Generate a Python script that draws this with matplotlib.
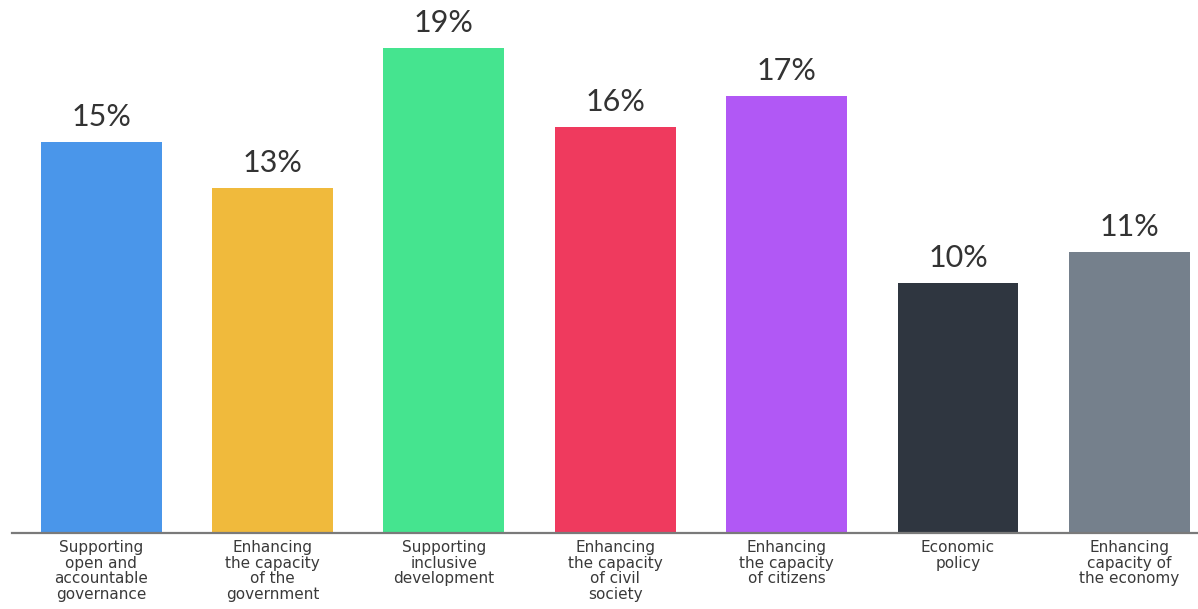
import matplotlib
matplotlib.use("Agg")
import matplotlib.pyplot as plt

categories = [
    "Supporting\nopen and\naccountable\ngovernance",
    "Enhancing\nthe capacity\nof the\ngovernment",
    "Supporting\ninclusive\ndevelopment",
    "Enhancing\nthe capacity\nof civil\nsociety",
    "Enhancing\nthe capacity\nof citizens",
    "Economic\npolicy",
    "Enhancing\ncapacity of\nthe economy",
]
# bar heights (labels are rounded)
values = [15.3, 13.5, 19.0, 15.9, 17.1, 9.8, 11.0]
value_labels = ["15%", "13%", "19%", "16%", "17%", "10%", "11%"]
colors = ["#4A96EA", "#F0BA3C", "#45E48F", "#EF3A5E", "#B158F5", "#2F3640", "#75808C"]

plt.rcParams["font.family"] = ["Lato", "DejaVu Sans"]

fig = plt.figure(figsize=(11.98, 6.09), dpi=100)
ax = fig.add_axes([12 / 1198, 76 / 609, 1 - 12 / 1198, 533 / 609])

x = list(range(len(values)))
bars = ax.bar(x, values, width=0.705, color=colors, zorder=2)

for bar, lab in zip(bars, value_labels):
    ax.annotate(lab, (bar.get_x() + bar.get_width() / 2, bar.get_height()),
                xytext=(0, 8), textcoords="offset points",
                ha="center", va="bottom", fontsize=22, color="#333333")

ax.set_xlim(-0.52, 6.40)
ax.set_ylim(0, 20.88)

ax.set_xticks(x)
ax.set_xticklabels(categories, fontsize=11, color="#3a3a3a", linespacing=1.05,
                   family=["DejaVu Sans"])
ax.tick_params(axis="x", length=0, pad=5)
ax.set_yticks([])

for side in ["top", "right", "left"]:
    ax.spines[side].set_visible(False)
ax.spines["bottom"].set_color("#7a7a7a")
ax.spines["bottom"].set_linewidth(1.6)

fig.savefig("out.png", dpi=100)
